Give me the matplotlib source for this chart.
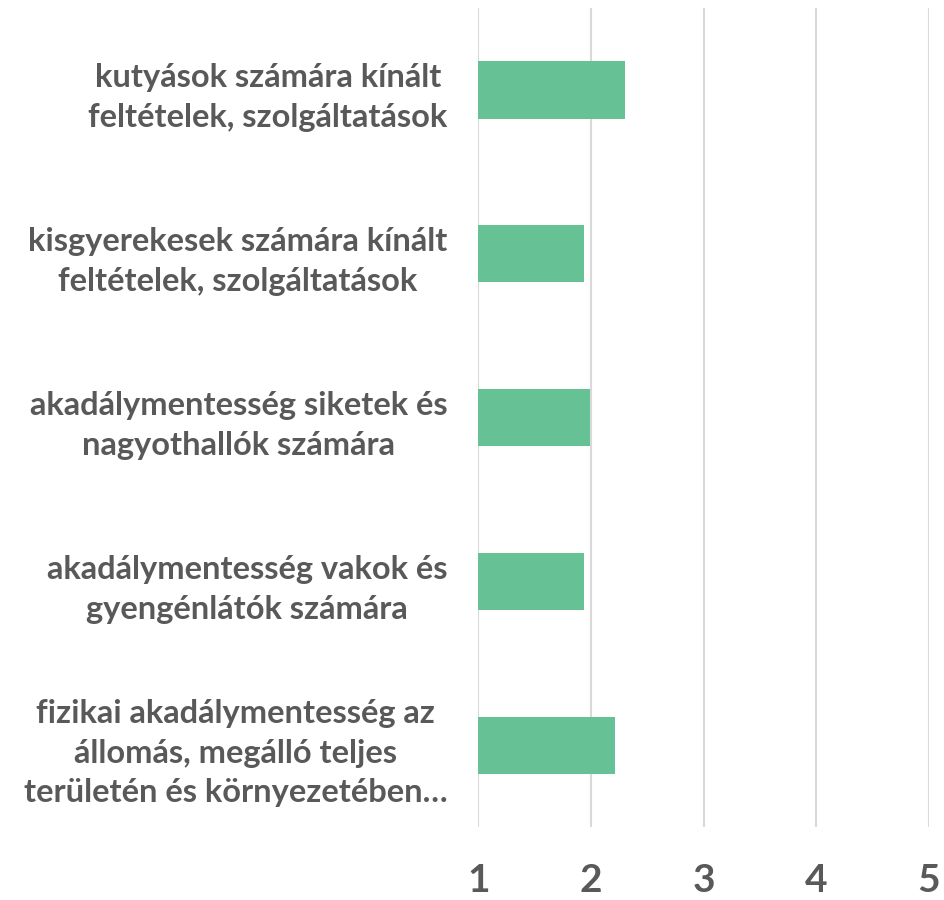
import matplotlib.pyplot as plt

categories = [
    "fizikai akadálymentesség az\nállomás, megálló teljes\nterületén és környezetében…",
    "akadálymentesség vakok és\ngyengénlátók számára",
    "akadálymentesség siketek és\nnagyothallók számára",
    "kisgyerekesek számára kínált\nfeltételek, szolgáltatások",
    "kutyások számára kínált\nfeltételek, szolgáltatások",
]
values = [2.21, 1.94, 1.99, 1.94, 2.30]
ticks = [1, 2, 3, 4, 5]

plt.rcParams['font.family'] = ['Lato', 'DejaVu Sans']

fig = plt.figure(figsize=(9.45, 9), dpi=100)
ax = fig.add_axes([0.506, 0.081, 0.477, 0.910])

ypos = range(len(categories))
ax.barh(ypos, [v - 1 for v in values], left=1, height=0.35, color='#66C295', zorder=3)

ax.set_xlim(1, 5)
ax.set_ylim(-0.5, len(categories) - 0.5)
ax.set_xticks(ticks)
ax.set_xticklabels([str(t) for t in ticks], fontsize=28, fontweight='bold', color='#595959')
ax.set_yticks(list(ypos))
ax.set_yticklabels(categories, fontsize=23.5, fontweight='bold', color='#595959',
                   multialignment='center', linespacing=1.45)
ax.tick_params(axis='both', length=0)
ax.tick_params(axis='x', pad=26)
ax.tick_params(axis='y', pad=22)
ax.grid(axis='x', color='#D9D9D9', linewidth=1.5, zorder=0)
for s in ax.spines.values():
    s.set_visible(False)

fig.savefig('out.png', dpi=100)
